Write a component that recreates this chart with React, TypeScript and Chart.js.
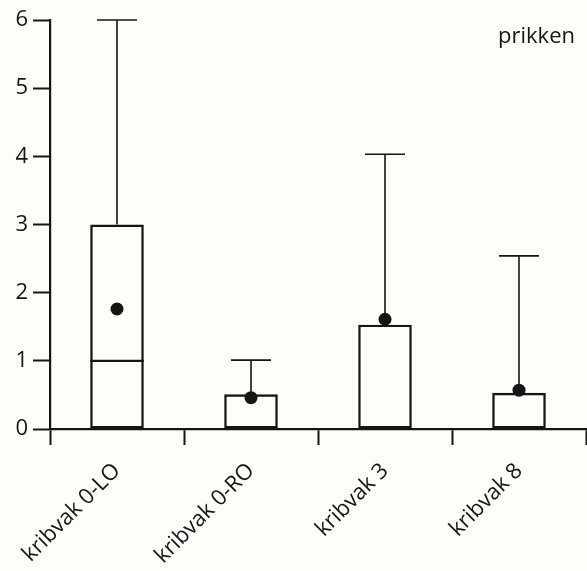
import React, { useEffect, useRef } from "react";
import { Chart, registerables } from "chart.js";

Chart.register(...registerables);

const categories = ["kribvak 0-LO", "kribvak 0-RO", "kribvak 3", "kribvak 8"];
const minValues = [0, 0, 0, 0];
const q1Values = [0, 0, 0, 0];
const medianValues = [1, 0, 0, 0];
const q3Values = [3, 0.51, 1.53, 0.53];
const maxValues = [6, 1.01, 4.03, 2.54];
const meanValues = [1.76, 0.46, 1.61, 0.57];
const yTicks = [0, 1, 2, 3, 4, 5, 6];
const cornerLabel = "prikken";

const FONT = "'Open Sans', 'DejaVu Sans', sans-serif";
const INK = "#151515";

export default function App() {
  const ref = useRef<HTMLCanvasElement | null>(null);

  useEffect(() => {
    if (!ref.current) return;

    const boxPlugin = {
      id: "boxParts",
      afterDatasetDraw(chart: any, args: any) {
        if (args.index !== 0) return;
        const ctx = chart.ctx;
        const xs = chart.scales.x;
        const ys = chart.scales.y;
        const meta = chart.getDatasetMeta(0);
        ctx.save();
        ctx.strokeStyle = INK;
        categories.forEach((_, i) => {
          const x = xs.getPixelForValue(i);
          const el: any = meta.data[i];
          const w = el ? el.width : 54;
          const capHalf = 20;
          ctx.lineWidth = 1.6;
          const yq3 = ys.getPixelForValue(q3Values[i]);
          const yMax = ys.getPixelForValue(maxValues[i]);
          if (maxValues[i] > q3Values[i]) {
            ctx.beginPath();
            ctx.moveTo(x, yq3);
            ctx.lineTo(x, yMax);
            ctx.moveTo(x - capHalf, yMax);
            ctx.lineTo(x + capHalf, yMax);
            ctx.stroke();
          }
          const yq1 = ys.getPixelForValue(q1Values[i]);
          const yMin = ys.getPixelForValue(minValues[i]);
          if (minValues[i] < q1Values[i]) {
            ctx.beginPath();
            ctx.moveTo(x, yq1);
            ctx.lineTo(x, yMin);
            ctx.moveTo(x - capHalf, yMin);
            ctx.lineTo(x + capHalf, yMin);
            ctx.stroke();
          }
          ctx.lineWidth = 2.2;
          const yMed = ys.getPixelForValue(medianValues[i]);
          ctx.beginPath();
          ctx.moveTo(x - w / 2, yMed);
          ctx.lineTo(x + w / 2, yMed);
          ctx.stroke();
        });
        ctx.restore();
      },
      afterDraw(chart: any) {
        const ctx = chart.ctx;
        const area = chart.chartArea;
        ctx.save();
        ctx.fillStyle = INK;
        ctx.font = `22px ${FONT}`;
        ctx.textAlign = "right";
        ctx.textBaseline = "alphabetic";
        ctx.fillText(cornerLabel, area.right - 11, area.top + 23);
        ctx.restore();
      },
    };

    const chart = new Chart(ref.current, {
      type: "bar",
      data: {
        labels: categories,
        datasets: [
          {
            type: "bar",
            data: categories.map((_, i) => [q1Values[i], q3Values[i]]) as any,
            backgroundColor: "rgba(0,0,0,0)",
            borderColor: INK,
            borderWidth: 2.4,
            borderSkipped: false,
            barPercentage: 0.4,
            categoryPercentage: 1,
            order: 1,
          },
          {
            type: "line",
            data: meanValues,
            showLine: false,
            pointRadius: 6.5,
            pointBackgroundColor: INK,
            pointBorderColor: INK,
            pointBorderWidth: 0,
            order: 0,
          } as any,
        ],
      },
      options: {
        animation: false,
        responsive: false,
        maintainAspectRatio: false,
        layout: { autoPadding: false, padding: { top: 20, right: 1, left: 0, bottom: 0 } },
        plugins: {
          legend: { display: false },
          tooltip: { enabled: false },
          title: { display: false },
        },
        scales: {
          x: {
            type: "category",
            offset: true,
            grid: {
              display: true,
              offset: true,
              drawOnChartArea: false,
              drawTicks: true,
              tickLength: 16,
              tickWidth: 2,
              tickColor: INK,
            },
            border: { display: true, color: INK, width: 2.2 },
            ticks: {
              color: INK,
              font: { family: FONT, size: 22 },
              maxRotation: 45,
              minRotation: 45,
              autoSkip: false,
              padding: 13,
            },
            afterFit(scale: any) {
              scale.height = 142;
              scale.paddingLeft = 0;
              scale.paddingRight = 0;
            },
          },
          y: {
            min: 0,
            max: 6,
            afterBuildTicks(scale: any) {
              scale.ticks = yTicks.map((v) => ({ value: v }));
            },
            grid: {
              display: true,
              drawOnChartArea: false,
              drawTicks: true,
              tickLength: 17,
              tickWidth: 2,
              tickColor: INK,
            },
            border: { display: true, color: INK, width: 2.2 },
            ticks: {
              color: INK,
              font: { family: FONT, size: 22 },
              padding: 5,
            },
            afterFit(scale: any) {
              scale.width = 50;
              scale.paddingTop = 0;
              scale.paddingBottom = 0;
            },
          },
        },
      },
      plugins: [boxPlugin],
    });

    return () => chart.destroy();
  }, []);

  return (
    <div
      style={{
        position: "fixed",
        left: 0,
        top: 0,
        width: 587,
        height: 571,
        background: "#fdfdfa",
      }}
    >
      <canvas ref={ref} width={587} height={571} style={{ display: "block" }} />
    </div>
  );
}
